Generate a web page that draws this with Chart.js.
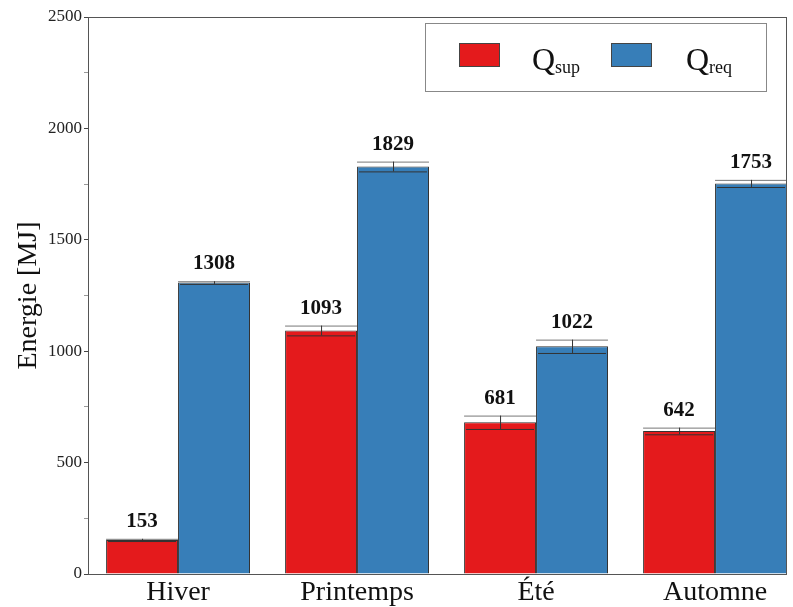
<!DOCTYPE html>
<html lang="fr">
<head>
    <meta charset="UTF-8">
    <title>Energie par saison</title>
    <style>
        body {
            margin: 0;
            padding: 0;
            background: #fff;
        }

        .chart-box {
            width: 793px;
            height: 607px;
        }
    </style>
    <script src="https://cdn.jsdelivr.net/npm/chart.js"></script>
</head>
<body>
    <div class="chart-box">
        <canvas id="energy-chart" width="793" height="607"></canvas>
    </div>

<script>
    // data
    var seasons = ['Hiver', 'Printemps', 'Été', 'Automne'];
    var qSup = [153, 1093, 681, 642];
    var qReq = [1308, 1829, 1022, 1753];
    var qSupErr = [5, 22, 30, 15];
    var qReqErr = [6, 22, 30, 16];
    var yTicks = [0, 500, 1000, 1500, 2000, 2500];

    var redColor = '#e41a1c';
    var blueColor = '#377eb8';
    var serif = "'Liberation Serif', 'Times New Roman', serif";

    function toPoints(values) {
        var pts = [];
        for (var i = 0; i < values.length; i++) {
            pts.push({ x: i, y: values[i] });
        }
        return pts;
    }

    // frame, error bars and value labels
    var decorPlugin = {
        id: 'decor',
        afterDatasetsDraw: function(chart) {
            var ctx = chart.ctx;
            var yScale = chart.scales.y;
            var errs = [qSupErr, qReqErr];

            ctx.save();
            chart.data.datasets.forEach(function(ds, d) {
                var meta = chart.getDatasetMeta(d);
                meta.data.forEach(function(bar, i) {
                    var v = ds.data[i].y;
                    var e = errs[d][i];
                    var half = bar.width / 2;
                    var yTop = yScale.getPixelForValue(v + e);
                    var yBot = yScale.getPixelForValue(v - e);

                    ctx.lineWidth = 1;
                    ctx.strokeStyle = '#777';
                    ctx.beginPath();
                    ctx.moveTo(bar.x - half, yTop + 0.5);
                    ctx.lineTo(bar.x + half, yTop + 0.5);
                    ctx.stroke();

                    ctx.strokeStyle = '#333';
                    ctx.beginPath();
                    ctx.moveTo(bar.x - half + 2, yBot + 0.5);
                    ctx.lineTo(bar.x + half - 2, yBot + 0.5);
                    ctx.moveTo(bar.x + 0.5, yTop);
                    ctx.lineTo(bar.x + 0.5, yBot);
                    ctx.stroke();

                    ctx.fillStyle = '#111';
                    ctx.font = 'bold 21px ' + serif;
                    ctx.textAlign = 'center';
                    ctx.textBaseline = 'alphabetic';
                    ctx.fillText(String(v), bar.x, yTop - 12);
                });
            });

            var a = chart.chartArea;
            ctx.strokeStyle = '#555';
            ctx.lineWidth = 1;
            ctx.strokeRect(a.left + 0.5, a.top + 0.5, a.right - a.left - 1, a.bottom - a.top);
            ctx.restore();
        }
    };

    // legend with subscripts, drawn by hand
    var legendPlugin = {
        id: 'subLegend',
        afterDraw: function(chart) {
            var ctx = chart.ctx;
            ctx.save();
            ctx.fillStyle = '#fff';
            ctx.fillRect(425, 23, 341, 68);
            ctx.strokeStyle = '#888';
            ctx.lineWidth = 1;
            ctx.strokeRect(425.5, 23.5, 341, 68);

            var items = [
                { color: redColor, x: 459, tx: 532, sub: 'sup' },
                { color: blueColor, x: 611, tx: 686, sub: 'req' }
            ];
            items.forEach(function(it) {
                ctx.fillStyle = it.color;
                ctx.fillRect(it.x, 43, 41, 24);
                ctx.strokeStyle = '#444';
                ctx.strokeRect(it.x + 0.5, 43.5, 40, 23);

                ctx.fillStyle = '#111';
                ctx.textAlign = 'left';
                ctx.textBaseline = 'alphabetic';
                ctx.font = '32px ' + serif;
                ctx.fillText('Q', it.tx, 70);
                var w = ctx.measureText('Q').width;
                ctx.font = '18px ' + serif;
                ctx.fillText(it.sub, it.tx + w, 73);
            });
            ctx.restore();
        }
    };

    var ctx = document.getElementById('energy-chart').getContext('2d');
    var myChart = new Chart(ctx, {
        type: 'bar',
        data: {
            datasets: [{
                label: 'Qsup',
                data: toPoints(qSup),
                backgroundColor: redColor,
                borderColor: '#333',
                borderWidth: 1
            }, {
                label: 'Qreq',
                data: toPoints(qReq),
                backgroundColor: blueColor,
                borderColor: '#333',
                borderWidth: 1
            }]
        },
        options: {
            responsive: false,
            animation: false,
            layout: {
                padding: { top: 17, right: 6, left: 0, bottom: 0 }
            },
            categoryPercentage: 0.804,
            barPercentage: 1.0,
            plugins: {
                legend: { display: false },
                tooltip: { enabled: false }
            },
            scales: {
                x: {
                    type: 'linear',
                    offset: false,
                    min: -0.503,
                    max: 3.402,
                    afterBuildTicks: function(axis) {
                        axis.ticks = seasons.map(function(s, i) { return { value: i }; });
                    },
                    afterFit: function(axis) { axis.height = 33; },
                    grid: { display: false, drawTicks: false, offset: false },
                    border: { display: false },
                    ticks: {
                        padding: 2,
                        color: '#111',
                        font: { family: serif, size: 28 },
                        callback: function(v) { return seasons[v]; }
                    }
                },
                y: {
                    min: 0,
                    max: 2500,
                    afterBuildTicks: function(axis) {
                        var t = [];
                        for (var v = 0; v <= 2500; v += 250) t.push({ value: v });
                        axis.ticks = t;
                    },
                    afterFit: function(axis) { axis.width = 88; },
                    grid: {
                        drawOnChartArea: false,
                        drawTicks: true,
                        tickLength: 4,
                        tickColor: function(c) {
                            return yTicks.indexOf(c.tick.value) >= 0 ? '#444' : '#999';
                        }
                    },
                    border: { display: false },
                    ticks: {
                        padding: 2,
                        color: '#222',
                        font: { family: serif, size: 17 },
                        callback: function(v) {
                            return yTicks.indexOf(v) >= 0 ? v : '';
                        }
                    },
                    title: {
                        display: true,
                        text: 'Energie [MJ]',
                        color: '#111',
                        font: { family: serif, size: 28 },
                        padding: { top: 12, bottom: 0 }
                    }
                }
            }
        },
        plugins: [decorPlugin, legendPlugin]
    });
</script>
</body>
</html>
